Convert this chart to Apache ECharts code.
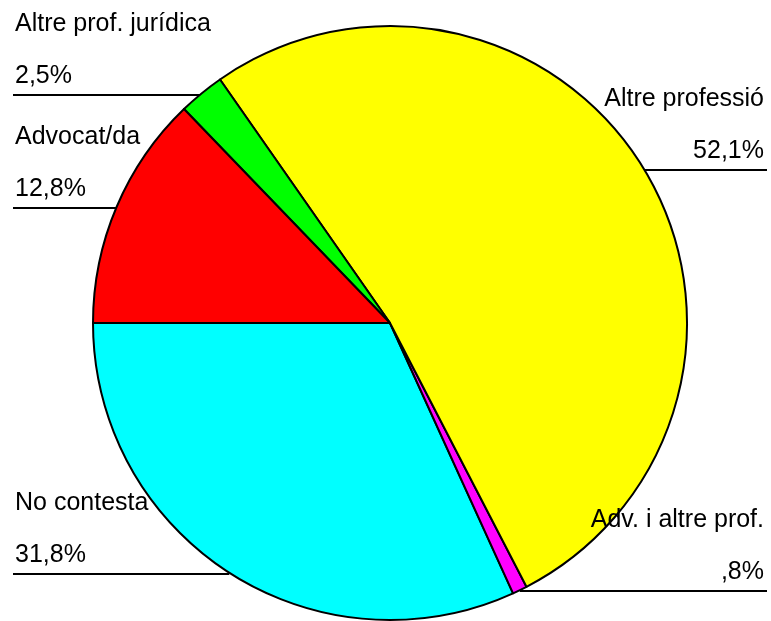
<!DOCTYPE html>
<html>
<head>
<meta charset="utf-8">
<script src="https://cdn.jsdelivr.net/npm/echarts@6/dist/echarts.min.js"></script>
<style>
  html, body { margin: 0; padding: 0; background: #fff; }
  #main { width: 771px; height: 621px; }
</style>
</head>
<body>
<div id="main"></div>
<script>
// categories in drawing order (counter-clockwise from 9 o'clock)
const categories = ["No contesta", "Adv. i altre prof.", "Altre professió", "Altre prof. jurídica", "Advocat/da"];
const percents = [31.8, 0.8, 52.1, 2.5, 12.8];
const colors = ["#00FFFF", "#FF00FF", "#FFFF00", "#00FF00", "#FF0000"];

const cx = 390, cy = 323;

// SPSS style: comma decimal, no leading zero
function fmtPct(v) {
  let s = v.toFixed(1).replace(".", ",");
  if (s.indexOf("0,") === 0) s = s.slice(1);
  return s + "%";
}

const chart = echarts.init(document.getElementById("main"));
const pieData = categories.map((name, i) => ({
  name: name,
  value: percents[i],
  itemStyle: { color: colors[i] }
}));

chart.setOption({
  animation: false,
  series: [
    {
      type: "pie",
      center: [cx, cy],
      radius: [0, 297],
      startAngle: 180,
      clockwise: false,
      avoidLabelOverlap: false,
      data: pieData,
      itemStyle: {
        borderColor: "#000",
        borderWidth: 2
      },
      label: {
        show: true,
        position: "outside",
        formatter: p => "{n|" + p.name + "}\n{p|" + fmtPct(p.value) + "}",
        rich: {
          n: { fontSize: 25, lineHeight: 78, color: "#000", fontFamily: "Arial, 'Liberation Sans'" },
          p: { fontSize: 25, lineHeight: 26, color: "#000", fontFamily: "Arial, 'Liberation Sans'" }
        }
      },
      labelLine: {
        show: true,
        length: 5,
        length2: 5,
        lineStyle: { color: "#000", width: 2 }
      },
      // flat leader line under the label text, running out to the edge
      labelLayout: function (params) {
        const p0 = params.labelLinePoints[0];
        const left = p0[0] < cx;
        const endX = left ? 13 : 767;
        const y = Math.round(p0[1]) + 1;
        return {
          x: left ? 15 : 764,
          y: y - 6,
          align: left ? "left" : "right",
          verticalAlign: "bottom",
          labelLinePoints: [[p0[0], y], [p0[0], y], [endX, y]]
        };
      },
      emphasis: { disabled: true }
    }
  ]
});
</script>
</body>
</html>
